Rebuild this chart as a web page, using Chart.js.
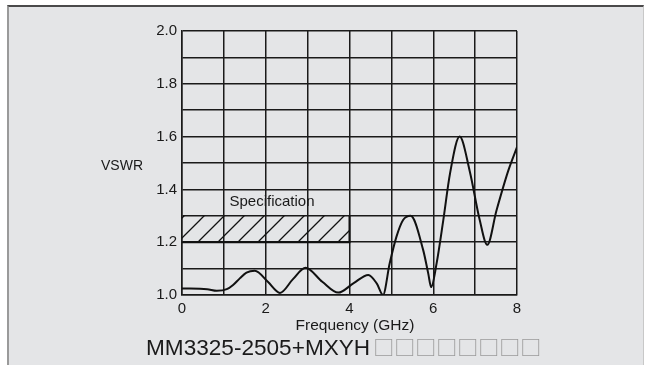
<!DOCTYPE html>
<html lang="en">
<head>
<meta charset="UTF-8">
<title>VSWR</title>
<script src="https://cdn.jsdelivr.net/npm/chart.js@4.4.0/dist/chart.umd.min.js"></script>
<style>
  * { margin:0; padding:0; box-sizing:border-box; }
  body { width:645px; height:365px; background:#fff; position:relative; overflow:hidden; font-family:'Liberation Sans',Arial,sans-serif; }
  .frame { position:absolute; left:7px; top:5px; width:637px; height:362px; background:#e4e5e7; border-top:2px solid #4a4a4a; border-left:2px solid #9a9a9a; border-right:1px solid #c8c8c8; }
  #c { position:absolute; left:0; top:0; }
  .caption { position:absolute; left:146px; top:334px; font-size:22.6px; line-height:25px; color:#1a1a1a; white-space:nowrap; }
  .caption .tofu { font-family:'Noto Sans CJK JP',sans-serif; color:#9a9a9a; font-size:21px; margin-left:3px; }
</style>
</head>
<body>
<div class="frame"></div>
<canvas id="c" width="645" height="365"></canvas>
<div class="caption">MM3325-2505+MXYH<span class="tofu">□□□□□□□□</span></div>

<script>
// measured curve
const freq = [0, 0.6, 0.83, 1.07, 1.22, 1.38, 1.54, 1.74, 2.05, 2.34, 2.65, 2.95, 3.35, 3.73, 4.1, 4.45, 4.65, 4.8, 4.96, 5.12, 5.28, 5.46, 5.76, 5.88, 5.95, 6.08, 6.24, 6.4, 6.63, 6.87, 7.11, 7.29, 7.51, 7.79, 8];
const vswr = [1.025, 1.022, 1.016, 1.022, 1.038, 1.063, 1.085, 1.092, 1.05, 1.008, 1.06, 1.103, 1.05, 1.009, 1.045, 1.076, 1.044, 1.0, 1.12, 1.22, 1.284, 1.30, 1.17, 1.082, 1.03, 1.12, 1.284, 1.46, 1.60, 1.47, 1.284, 1.19, 1.32, 1.47, 1.56];

// spec limit box
const specFreq = [0, 4];
const specLow = 1.2;
const specHigh = 1.3;
const specLabel = 'Specification';

const xTickLabels = [0, 2, 4, 6, 8];
const yTickLabels = ['1.0', '1.2', '1.4', '1.6', '1.8', '2.0'];

const FONT = "'Liberation Sans', Arial, sans-serif";

// diagonal hatch
const tile = document.createElement('canvas');
tile.width = 20; tile.height = 20;
const t = tile.getContext('2d');
t.strokeStyle = '#111'; t.lineWidth = 1.3;
t.beginPath();
t.moveTo(-2, 22); t.lineTo(22, -2);
t.moveTo(-5, 5); t.lineTo(5, -5);
t.moveTo(15, 25); t.lineTo(25, 15);
t.stroke();
const ctx = document.getElementById('c').getContext('2d');
const hatch = ctx.createPattern(tile, 'repeat');

const textPlugin = {
  id: 'texts',
  afterDraw(chart) {
    const c = chart.ctx, sx = chart.scales.x, sy = chart.scales.y;
    c.save();
    c.fillStyle = '#1a1a1a';
    c.textAlign = 'center';
    c.textBaseline = 'middle';
    c.font = '14px ' + FONT;
    c.fillText('VSWR', 122, 166);
    c.font = '15px ' + FONT;
    c.fillText(specLabel, sx.getPixelForValue(2.15), sy.getPixelForValue(1.352));
    c.font = '15.5px ' + FONT;
    c.fillText('Frequency (GHz)', 355, 326);
    c.restore();
  }
};

new Chart(ctx, {
  type: 'line',
  data: {
    datasets: [
      { data: specFreq.map(f => ({x:f, y:specHigh})), borderWidth:0, pointRadius:0, fill:{value:specLow}, backgroundColor:hatch },
      { data: [{x:specFreq[0], y:specLow}, {x:specFreq[1], y:specLow}, {x:specFreq[1], y:specHigh}], borderColor:'#111', borderWidth:2, pointRadius:0, fill:false },
      { data: freq.map((f,i) => ({x:f, y:vswr[i]})), borderColor:'#111', borderWidth:2, pointRadius:0, fill:false, cubicInterpolationMode:'monotone' }
    ]
  },
  options: {
    responsive:false, animation:false, devicePixelRatio:1,
    layout:{ padding:{ left:0, top:31, right:128, bottom:0 } },
    plugins:{ legend:{display:false}, tooltip:{enabled:false} },
    scales:{
      x:{ type:'linear', min:0, max:8,
        afterFit(s){ s.height = 70; },
        grid:{ color:'#1a1a1a', lineWidth:1.5, drawTicks:false },
        border:{ color:'#1a1a1a', width:1.5 },
        ticks:{ stepSize:1, padding:5, color:'#1a1a1a', font:{family:FONT, size:15},
          callback:v => xTickLabels.includes(v) ? String(v) : '' } },
      y:{ min:1, max:2,
        afterFit(s){ s.width = 182; },
        grid:{ color:'#1a1a1a', lineWidth:1.5, drawTicks:false },
        border:{ color:'#1a1a1a', width:1.5 },
        ticks:{ stepSize:0.1, padding:5, color:'#1a1a1a', font:{family:FONT, size:15},
          callback:v => { const s = v.toFixed(1); return yTickLabels.includes(s) ? s : ''; } } }
    }
  },
  plugins:[textPlugin]
});
</script>
</body>
</html>
